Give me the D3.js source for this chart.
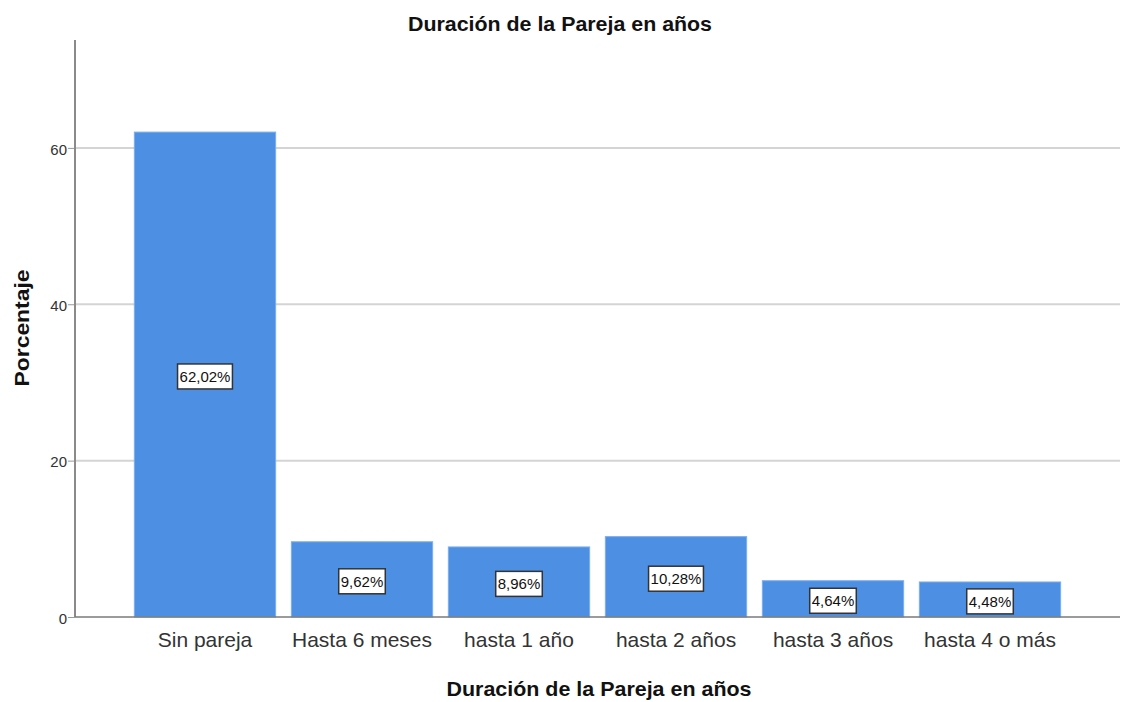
<!DOCTYPE html>
<html>
<head>
<meta charset="utf-8">
<script src="https://cdn.jsdelivr.net/npm/d3@7"></script>
<style>
body { margin: 0; background: #fff; }
svg text { font-family: "Liberation Sans", Arial, sans-serif; }
</style>
</head>
<body>
<div id="chart"></div>
<script>
var categories = ["Sin pareja", "Hasta 6 meses", "hasta 1 año", "hasta 2 años", "hasta 3 años", "hasta 4 o más"];
var percentages = [62.02, 9.62, 8.96, 10.28, 4.64, 4.48];
var yTicks = [0, 20, 40, 60];

var W = 1123, H = 702;
var margin = {top: 40, right: 3, bottom: 85, left: 75},
	width = W - margin.left - margin.right,
	height = H - margin.top - margin.bottom;

var svg = d3.select("#chart").append("svg")
	.attr("width", W)
	.attr("height", H);

var g = svg.append("g")
	.attr("transform", "translate(" + margin.left + "," + margin.top + ")");

var data = categories.map(function(c, i) { return {cat: c, val: percentages[i]}; });

var x = d3.scaleBand()
	.domain(categories)
	.range([0, width])
	.paddingInner(0.1)
	.paddingOuter(0.378);

var y = d3.scaleLinear()
	.domain([0, 73.8])
	.range([height, 0]);

// grid lines
g.selectAll(".grid")
	.data(yTicks.filter(function(d) { return d > 0; }))
	.enter().append("line")
	.attr("class", "grid")
	.attr("x1", 0)
	.attr("x2", width)
	.attr("y1", function(d) { return y(d); })
	.attr("y2", function(d) { return y(d); })
	.attr("stroke", "#d4d4d4")
	.attr("stroke-width", 2);

// bars
g.selectAll(".bar")
	.data(data)
	.enter().append("rect")
	.attr("class", "bar")
	.attr("x", function(d) { return x(d.cat); })
	.attr("y", function(d) { return y(d.val); })
	.attr("width", x.bandwidth())
	.attr("height", function(d) { return height - y(d.val); })
	.attr("fill", "#4d8fe3")
	.attr("stroke", "#7aaeee")
	.attr("stroke-width", 1);

// y axis
var yAxis = d3.axisLeft(y).tickValues(yTicks).tickSize(7).tickFormat(d3.format("d"));
var yG = g.append("g").attr("class", "axis axis--y").call(yAxis);
yG.select(".domain").remove();
yG.selectAll(".tick line").attr("stroke", "#999");
yG.selectAll(".tick text").attr("font-size", 15).attr("fill", "#333").attr("x", -8).attr("dy", "0.42em");
g.append("line")
	.attr("x1", 0).attr("x2", 0)
	.attr("y1", 0).attr("y2", height)
	.attr("stroke", "#8a8a8a")
	.attr("stroke-width", 2);

// x axis
var xAxis = d3.axisBottom(x).tickSize(0).tickPadding(15);
var xG = g.append("g")
	.attr("class", "axis axis--x")
	.attr("transform", "translate(0," + height + ")")
	.call(xAxis);
xG.select(".domain").remove();
xG.selectAll(".tick text").attr("font-size", 21).attr("fill", "#333");
g.append("line")
	.attr("x1", 0).attr("x2", width)
	.attr("y1", height).attr("y2", height)
	.attr("stroke", "#7a7a7a")
	.attr("stroke-width", 1.5);

// value labels
var fmt = function(v) { return v.toFixed(2).replace(".", ",") + "%"; };
var labels = g.selectAll(".lbl")
	.data(data)
	.enter().append("g")
	.attr("class", "lbl")
	.attr("transform", function(d) {
		return "translate(" + (x(d.cat) + x.bandwidth() / 2) + "," + (y(d.val / 2) + 2) + ")";
	});
labels.append("text")
	.attr("text-anchor", "middle")
	.attr("dy", "0.36em")
	.attr("font-size", 15)
	.attr("fill", "#111")
	.text(function(d) { return fmt(d.val); });
labels.each(function() {
	var t = d3.select(this).select("text");
	var bb = t.node().getBBox();
	d3.select(this).insert("rect", "text")
		.attr("x", bb.x - 2)
		.attr("y", bb.y - 4)
		.attr("width", bb.width + 4)
		.attr("height", bb.height + 8)
		.attr("fill", "#fff")
		.attr("stroke", "#333")
		.attr("stroke-width", 1.5);
});

// titles
svg.append("text")
	.attr("x", 560)
	.attr("y", 31)
	.attr("text-anchor", "middle")
	.attr("font-size", 21)
	.attr("font-weight", "bold")
	.attr("fill", "#111")
	.attr("textLength", 304)
	.attr("lengthAdjust", "spacingAndGlyphs")
	.text("Duración de la Pareja en años");

svg.append("text")
	.attr("x", 599)
	.attr("y", 696)
	.attr("text-anchor", "middle")
	.attr("font-size", 21)
	.attr("font-weight", "bold")
	.attr("fill", "#111")
	.attr("textLength", 305)
	.attr("lengthAdjust", "spacingAndGlyphs")
	.text("Duración de la Pareja en años");

svg.append("text")
	.attr("transform", "translate(29,328) rotate(-90)")
	.attr("text-anchor", "middle")
	.attr("font-size", 21)
	.attr("font-weight", "bold")
	.attr("fill", "#111")
	.attr("textLength", 117)
	.attr("lengthAdjust", "spacingAndGlyphs")
	.text("Porcentaje");
</script>
</body>
</html>
